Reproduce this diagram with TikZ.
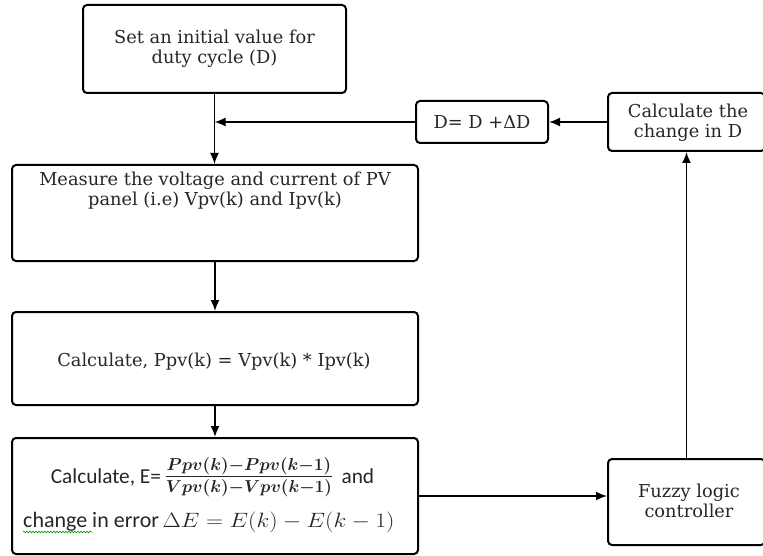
\documentclass[tikz,border=0pt]{standalone}
\usepackage{amsmath}
\usepackage{fontspec}
\setmainfont{DejaVu Serif}
\newfontfamily\carl{Carlito}
\usetikzlibrary{arrows.meta,decorations.pathmorphing}
\begin{document}
\begin{tikzpicture}[x=1pt,y=-1pt,
  box/.style={draw, line width=2pt, rounded corners=4pt, inner sep=0pt},
  lbl/.style={align=center, font=\fontsize{17.8}{20}\selectfont, inner sep=0pt, text=black!85},
  sanslbl/.style={inner sep=0pt, text=black!85},
  conn/.style={line width=1.7pt},
  arr/.style={conn,-{Latex[length=11pt,width=9pt]}}]
\useasboundingbox (0,0) rectangle (763,556);
\clip (0,0) rectangle (763,556);
% boxes
\node[box, minimum width=263pt, minimum height=88pt] (init) at (214.5,49) {};
\node[box, minimum width=406pt, minimum height=96pt] (meas) at (215,213) {};
\node[box, minimum width=406pt, minimum height=93pt] (ppv) at (215,358.5) {};
\node[box, minimum width=406pt, minimum height=116pt] (err) at (215,496) {};
\node[box, minimum width=132pt, minimum height=42pt] (dbox) at (482,122) {};
\node[box, minimum width=157pt, minimum height=58pt] (calc) at (686.5,122) {};
\node[box, minimum width=157pt, minimum height=86pt] (fuzzy) at (686.5,502) {};
% texts
\node[lbl] (tinit) at (214.5,49) {Set an initial value for\\duty cycle (D)};
\node[lbl] (tmeas) at (215,191) {Measure the voltage and current of PV\\panel (i.e) Vpv(k) and Ipv(k)};
\node[lbl] (tppv) at (214,362) {Calculate, Ppv(k) = Vpv(k) * Ipv(k)};
\node[lbl] (tdbox) at (482,122) {D= D +ΔD};
\node[lbl] (tcalc) at (688,123) {Calculate the\\change in D};
\node[lbl] (tfuzzy) at (689,501) {Fuzzy logic\\controller};
\node[sanslbl, anchor=base] (terr1) at (212.5,483) {\carl\fontsize{21.3}{24}\selectfont Calculate, E=\,{\fontsize{24.5}{27}\selectfont$\boldsymbol{\frac{Ppv(k)-Ppv(k-1)}{Vpv(k)-Vpv(k-1)}}$}\, and};
\node[sanslbl, anchor=base west] (terr2) at (23,527) {\carl\fontsize{22}{24}\selectfont change in error\,\scalebox{1.14}[1]{\fontsize{22}{24}\selectfont$\Delta E=E(k)-E(k-1)$}};
\draw[green!60!black, line width=0.6pt, decorate, decoration={snake, amplitude=0.9pt, segment length=3pt}] (23,532) -- (92,532);
% connectors
\coordinate (j) at (init.south |- dbox.west);
\draw[arr] (init.south) -- (init.south |- meas.north);
\draw[arr] (dbox.west) -- (j);
\draw[arr] (calc.west) -- (dbox.east);
\draw[arr] (meas.south) -- (ppv.north);
\draw[arr] (ppv.south) -- (err.north);
\draw[arr] (err.east) -- (fuzzy.west |- err.east);
\draw[arr] (fuzzy.north) -- (calc.south);
\end{tikzpicture}
\end{document}
